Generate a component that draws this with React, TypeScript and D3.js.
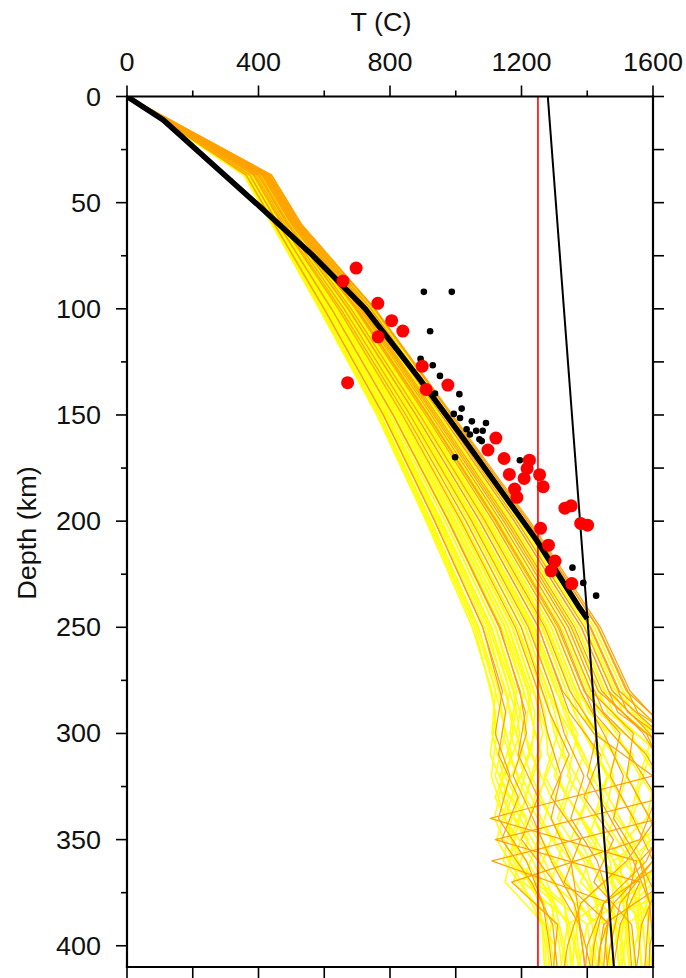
import React from "react";
import * as d3 from "d3";

const W = 686;
const H = 978;

const tempTicks = [0, 400, 800, 1200, 1600];
const tempMinorTicks = [200, 600, 1000, 1400];
const depthTicks = [0, 50, 100, 150, 200, 250, 300, 350, 400];
const depthMinorTicks = [25, 75, 125, 175, 225, 275, 325, 375];
const rightTicks = [0, 25, 50, 75, 100, 125, 150, 175, 200, 225, 250, 275, 300, 325, 350, 375, 400];
const bottomTicks = [0, 200, 400, 600, 800, 1000, 1200, 1400, 1600];

// model geotherms, family A: depth nodes (km) and temperatures (C)
const modelDepthsA = [0, 37, 60, 100, 150, 200, 250, 280, 300, 320, 340, 360, 380, 400, 410];
const modelTempsA: number[][] = [
  [0, 355, 440, 585, 760, 910, 1050, 1110, 1125, 1108, 1150, 1190, 1255, 1272, 1275],
  [0, 358, 443, 590, 768, 920, 1062, 1121, 1110, 1145, 1118, 1175, 1270, 1290, 1300],
  [0, 357, 444, 592, 770, 925, 1068, 1131, 1150, 1120, 1170, 1145, 1240, 1300, 1310],
  [0, 363, 448, 600, 780, 936, 1082, 1142, 1120, 1165, 1130, 1215, 1265, 1285, 1292],
  [0, 362, 447, 601, 783, 941, 1088, 1153, 1175, 1135, 1195, 1160, 1300, 1330, 1340],
  [0, 368, 453, 609, 791, 952, 1102, 1164, 1140, 1190, 1150, 1235, 1290, 1315, 1322],
  [0, 366, 452, 610, 794, 957, 1108, 1175, 1195, 1150, 1215, 1180, 1330, 1360, 1375],
  [0, 371, 457, 617, 803, 968, 1122, 1185, 1165, 1210, 1175, 1255, 1300, 1280, 1285],
  [0, 374, 460, 622, 809, 977, 1132, 1196, 1215, 1175, 1235, 1290, 1360, 1395, 1410],
  [0, 373, 459, 623, 812, 982, 1139, 1207, 1185, 1230, 1195, 1270, 1330, 1345, 1350],
  [0, 378, 464, 630, 820, 992, 1151, 1218, 1240, 1200, 1260, 1330, 1400, 1430, 1445],
  [0, 380, 466, 634, 826, 1000, 1161, 1228, 1210, 1255, 1225, 1300, 1360, 1372, 1380],
  [0, 382, 469, 638, 832, 1008, 1171, 1239, 1265, 1230, 1290, 1360, 1440, 1460, 1470],
  [0, 384, 470, 643, 838, 1016, 1181, 1250, 1280, 1320, 1290, 1350, 1370, 1385, 1392],
  [0, 385, 471, 645, 842, 1022, 1189, 1261, 1310, 1270, 1340, 1410, 1470, 1505, 1515],
  [0, 389, 476, 651, 850, 1032, 1201, 1272, 1300, 1350, 1310, 1390, 1430, 1420, 1425],
  [0, 391, 478, 656, 855, 1040, 1211, 1282, 1340, 1300, 1380, 1450, 1510, 1540, 1548],
  [0, 393, 480, 660, 861, 1048, 1221, 1293, 1330, 1390, 1350, 1430, 1470, 1455, 1462],
  [0, 395, 483, 665, 867, 1056, 1231, 1304, 1370, 1340, 1420, 1480, 1560, 1575, 1585],
  [0, 397, 485, 669, 873, 1064, 1241, 1315, 1360, 1420, 1380, 1470, 1480, 1490, 1496],
  [0, 400, 487, 673, 879, 1073, 1251, 1325, 1420, 1600, 1105, 1550, 1520, 1530, 1535],
  [0, 402, 489, 677, 885, 1081, 1261, 1336, 1390, 1460, 1420, 1500, 1510, 1520, 1528],
  [0, 404, 492, 682, 891, 1089, 1271, 1347, 1430, 1400, 1470, 1540, 1590, 1600, 1605],
  [0, 406, 494, 686, 897, 1097, 1281, 1358, 1420, 1480, 1450, 1530, 1550, 1560, 1566],
  [0, 408, 496, 691, 902, 1105, 1291, 1368, 1460, 1430, 1500, 1570, 1580, 1590, 1598],
  [0, 410, 499, 695, 908, 1113, 1301, 1379, 1450, 1510, 1480, 1560, 1620, 1610, 1615],
  [0, 413, 501, 699, 914, 1121, 1311, 1390, 1500, 1470, 1540, 1600, 1480, 1440, 1435],
  [0, 415, 503, 704, 920, 1129, 1321, 1401, 1490, 1560, 1530, 1620, 1530, 1480, 1470],
  [0, 417, 506, 708, 926, 1137, 1331, 1412, 1540, 1520, 1590, 1640, 1450, 1400, 1395],
  [0, 419, 508, 712, 932, 1145, 1341, 1422, 1530, 1610, 1580, 1450, 1540, 1560, 1565],
  [0, 421, 510, 717, 938, 1153, 1351, 1433, 1580, 1640, 1620, 1110, 1470, 1455, 1450],
  [0, 424, 513, 721, 944, 1161, 1361, 1444, 1570, 1650, 1610, 1520, 1380, 1340, 1330],
  [0, 426, 515, 726, 950, 1170, 1371, 1455, 1600, 1560, 1650, 1480, 1520, 1500, 1505],
  [0, 428, 517, 730, 956, 1178, 1381, 1465, 1590, 1660, 1640, 1580, 1450, 1420, 1415],
  [0, 430, 519, 734, 962, 1186, 1391, 1476, 1620, 1600, 1680, 1560, 1590, 1580, 1575],
  [0, 432, 522, 739, 967, 1194, 1401, 1487, 1610, 1680, 1660, 1530, 1380, 1360, 1355],
  [0, 434, 524, 743, 973, 1202, 1411, 1498, 1640, 1620, 1700, 1600, 1500, 1470, 1460],
  [0, 437, 526, 747, 979, 1210, 1421, 1509, 1630, 1700, 1680, 1650, 1580, 1545, 1540],
  [0, 439, 529, 752, 985, 1218, 1431, 1519, 1660, 1650, 1720, 1680, 1620, 1590, 1588],
  [0, 440, 530, 755, 990, 1225, 1440, 1530, 1650, 1720, 1700, 1700, 1650, 1620, 1625],
];
// "o" = orange model, "y" = yellow model
const modelKindsA = [
  "y", "y", "y", "o", "y", "y", "y", "y", "o", "y",
  "y", "y", "y", "o", "y", "y", "y", "o", "y", "y",
  "o", "y", "o", "y", "y", "o", "o", "y", "o", "y",
  "o", "o", "y", "o", "o", "y", "o", "y", "o", "o",
];

// model geotherms, family B (offset depth nodes)
const modelDepthsB = [0, 37, 60, 100, 150, 200, 250, 290, 310, 330, 350, 370, 390, 405, 410];
const modelTempsB: number[][] = [
  [0, 356, 442, 588, 764, 915, 1057, 1122, 1105, 1160, 1125, 1200, 1262, 1268, 1270],
  [0, 359, 445, 594, 772, 926, 1070, 1137, 1170, 1120, 1180, 1150, 1270, 1282, 1285],
  [0, 362, 448, 599, 779, 936, 1082, 1152, 1130, 1190, 1140, 1230, 1295, 1305, 1308],
  [0, 365, 451, 605, 787, 947, 1096, 1167, 1200, 1140, 1220, 1175, 1310, 1330, 1335],
  [0, 368, 454, 611, 795, 957, 1109, 1182, 1160, 1215, 1165, 1260, 1340, 1352, 1355],
  [0, 371, 456, 616, 802, 968, 1121, 1196, 1225, 1170, 1250, 1205, 1355, 1370, 1372],
  [0, 373, 460, 622, 810, 978, 1135, 1212, 1190, 1250, 1200, 1300, 1375, 1390, 1395],
  [0, 376, 463, 628, 818, 989, 1148, 1226, 1260, 1210, 1290, 1240, 1400, 1412, 1415],
  [0, 379, 465, 633, 825, 999, 1160, 1241, 1230, 1290, 1250, 1340, 1415, 1425, 1428],
  [0, 382, 469, 639, 833, 1010, 1174, 1256, 1300, 1250, 1330, 1290, 1435, 1445, 1448],
  [0, 385, 472, 645, 841, 1020, 1187, 1271, 1280, 1340, 1300, 1400, 1450, 1462, 1465],
  [0, 388, 474, 650, 848, 1031, 1199, 1285, 1345, 1290, 1380, 1330, 1468, 1478, 1480],
  [0, 390, 478, 656, 856, 1041, 1213, 1301, 1330, 1400, 1350, 1450, 1485, 1495, 1498],
  [0, 393, 481, 662, 864, 1052, 1226, 1315, 1390, 1340, 1430, 1380, 1500, 1512, 1515],
  [0, 396, 483, 667, 871, 1062, 1238, 1330, 1380, 1450, 1400, 1500, 1520, 1528, 1530],
  [0, 399, 487, 673, 879, 1073, 1252, 1345, 1440, 1390, 1480, 1420, 1535, 1545, 1548],
  [0, 402, 490, 679, 887, 1083, 1265, 1360, 1430, 1500, 1460, 1560, 1555, 1562, 1565],
  [0, 405, 492, 684, 894, 1094, 1277, 1374, 1490, 1440, 1540, 1470, 1570, 1578, 1580],
  [0, 407, 496, 690, 902, 1104, 1291, 1390, 1480, 1560, 1510, 1600, 1585, 1592, 1595],
  [0, 410, 499, 696, 910, 1115, 1304, 1404, 1540, 1500, 1590, 1520, 1600, 1600, 1600],
  [0, 413, 501, 701, 917, 1125, 1316, 1419, 1530, 1610, 1560, 1170, 1310, 1300, 1298],
  [0, 416, 505, 707, 925, 1136, 1330, 1434, 1590, 1550, 1640, 1580, 1400, 1380, 1375],
  [0, 419, 508, 713, 933, 1146, 1343, 1449, 1580, 1650, 1620, 1640, 1450, 1435, 1432],
  [0, 422, 510, 718, 940, 1157, 1355, 1463, 1630, 1600, 1680, 1600, 1480, 1465, 1460],
  [0, 424, 514, 724, 948, 1167, 1369, 1479, 1620, 1690, 1660, 1540, 1340, 1325, 1320],
  [0, 427, 517, 730, 956, 1178, 1382, 1493, 1670, 1640, 1120, 1560, 1500, 1485, 1480],
  [0, 430, 519, 735, 963, 1188, 1394, 1508, 1660, 1720, 1700, 1680, 1520, 1510, 1505],
  [0, 433, 523, 741, 971, 1199, 1408, 1523, 1700, 1680, 1740, 1620, 1565, 1555, 1550],
  [0, 436, 526, 747, 979, 1209, 1421, 1538, 1690, 1750, 1720, 1700, 1430, 1410, 1405],
  [0, 439, 528, 752, 986, 1220, 1433, 1553, 1740, 1720, 1760, 1730, 1630, 1620, 1618],
];
const modelKindsB = [
  "y", "y", "o", "y", "y", "y", "o", "y", "y", "y",
  "y", "o", "y", "y", "y", "o", "y", "y", "y", "y",
  "o", "y", "o", "y", "y", "o", "y", "o", "y", "o",
];

// best-fit geotherm (thick black)
const geothermT = [0, 110, 405, 566, 725, 890, 1023, 1246, 1373, 1400];
const geothermD = [0, 11, 52, 75, 100, 133, 161, 209, 240, 246];

// adiabat (thin black)
const adiabatT = [1280, 1481];
const adiabatD = [0, 410];

// red vertical reference
const refT = [1250, 1250];
const refD = [0, 410];

// red xenolith points
const redT = [697, 657, 763, 805, 839, 764, 671, 898, 910, 976, 1122, 1098, 1147, 1224, 1217, 1163, 1208, 1255, 1266, 1179, 1186, 1332, 1351, 1380, 1401, 1258, 1282, 1302, 1290, 1353];
const redD = [80.8, 86.9, 97.4, 105.6, 110.5, 113.2, 134.8, 127, 138, 135.9, 160.9, 166.5, 170.5, 171.3, 175.2, 178, 179.9, 178.1, 183.8, 184.9, 188.8, 193.9, 192.8, 201.1, 201.9, 203.4, 211.3, 218.8, 223.4, 229.4];

// black small points
const blackT = [903, 988, 922, 930, 893, 952, 937, 1011, 1018, 994, 1013, 1049, 1092, 1033, 1062, 1082, 1072, 1043, 998, 1195, 1079, 1355, 1388, 1427];
const blackD = [92, 92, 110.6, 126.6, 123.6, 131.6, 139.9, 140.2, 147, 149.5, 151.4, 153, 153.8, 156.7, 157.4, 157.4, 161.4, 159.2, 169.9, 171.3, 162.3, 221.9, 229.1, 235.1];

const FONT = "'Liberation Sans', Arial, Helvetica, sans-serif";

export default function App() {
  const x = d3.scaleLinear().domain([0, 1600]).range([127, 653]);
  const y = d3.scaleLinear().domain([0, 410]).range([96.5, 967]);
  const line = d3
    .line<[number, number]>()
    .x((p) => x(p[0]))
    .y((p) => y(p[1]));

  const x0 = x(0), x1 = x(1600), y0 = y(0), y1 = y(410);

  const toModels = (temps: number[][], depths: number[], kinds: string[]) =>
    temps.map((row, i) => ({
      d: line(row.map((t, j) => [t, depths[j]] as [number, number])) || "",
      kind: kinds[i],
    }));
  const models = [
    ...toModels(modelTempsA, modelDepthsA, modelKindsA),
    ...toModels(modelTempsB, modelDepthsB, modelKindsB),
  ];
  const yellow = models.filter((m) => m.kind === "y");
  const orange = models.filter((m) => m.kind === "o");

  const geoPath = line(geothermT.map((t, i) => [t, geothermD[i]] as [number, number])) || "";
  const adiPath = line(adiabatT.map((t, i) => [t, adiabatD[i]] as [number, number])) || "";
  const refPath = line(refT.map((t, i) => [t, refD[i]] as [number, number])) || "";

  const sx = 1.08;

  return (
    <svg
      width={W}
      height={H}
      style={{ position: "absolute", left: 0, top: 0, background: "#fff" }}
    >
      <defs>
        <clipPath id="plotClip">
          <rect x={x0} y={y0} width={x1 - x0} height={y1 - y0} />
        </clipPath>
      </defs>
      <rect x={0} y={0} width={W} height={H} fill="#fff" />

      <g clipPath="url(#plotClip)" fill="none" strokeLinejoin="round">
        {yellow.map((m, i) => (
          <path key={"y" + i} d={m.d} stroke="#ffff00" strokeWidth={1.5} />
        ))}
        {orange.map((m, i) => (
          <path key={"o" + i} d={m.d} stroke="#ffa200" strokeWidth={1.2} />
        ))}
        <path d={refPath} stroke="#ff0000" strokeWidth={1.6} />
        <path d={adiPath} stroke="#000" strokeWidth={2} />
        <path d={geoPath} stroke="#000" strokeWidth={5.5} />
        {blackT.map((t, i) => (
          <circle key={"b" + i} cx={x(t)} cy={y(blackD[i])} r={3.3} fill="#000" />
        ))}
        {redT.map((t, i) => (
          <circle key={"r" + i} cx={x(t)} cy={y(redD[i])} r={6.5} fill="#ff0000" />
        ))}
      </g>

      {/* frame */}
      <g stroke="#000" strokeWidth={2.2} strokeLinecap="square" fill="none">
        <line x1={x0} y1={y0} x2={x1} y2={y0} />
        <line x1={x0} y1={y1} x2={x1} y2={y1} />
        <line x1={x0} y1={y0} x2={x0} y2={y1} />
        <line x1={x1} y1={y0} x2={x1} y2={y1} />
      </g>

      {/* ticks */}
      <g stroke="#000" strokeWidth={1.6}>
        {tempTicks.map((t) => (
          <line key={"tt" + t} x1={x(t)} x2={x(t)} y1={y0} y2={y0 - 11} />
        ))}
        {tempMinorTicks.map((t) => (
          <line key={"tm" + t} x1={x(t)} x2={x(t)} y1={y0} y2={y0 - 6} />
        ))}
        {depthTicks.map((d) => (
          <line key={"dt" + d} x1={x0} x2={x0 - 11} y1={y(d)} y2={y(d)} />
        ))}
        {depthMinorTicks.map((d) => (
          <line key={"dm" + d} x1={x0} x2={x0 - 6} y1={y(d)} y2={y(d)} />
        ))}
        {rightTicks.map((d) => (
          <line key={"rt" + d} x1={x1} x2={x1 + 11} y1={y(d)} y2={y(d)} />
        ))}
        {bottomTicks.map((t) => (
          <line key={"bt" + t} x1={x(t)} x2={x(t)} y1={y1} y2={y1 + 12} />
        ))}
      </g>

      {/* labels */}
      <g fontFamily={FONT} fontSize={25} fill="#111">
        {tempTicks.map((t) => (
          <text
            key={"tl" + t}
            transform={`translate(${x(t)},71) scale(${sx},1)`}
            textAnchor="middle"
          >
            {t}
          </text>
        ))}
        {depthTicks.map((d) => (
          <text
            key={"dl" + d}
            transform={`translate(101,${y(d) + 9}) scale(${sx},1)`}
            textAnchor="end"
          >
            {d}
          </text>
        ))}
        <text transform={`translate(381,31) scale(${sx},1)`} textAnchor="middle">
          T (C)
        </text>
        <text
          transform={`translate(36,533) rotate(-90) scale(${sx},1)`}
          textAnchor="middle"
        >
          Depth (km)
        </text>
      </g>
    </svg>
  );
}
